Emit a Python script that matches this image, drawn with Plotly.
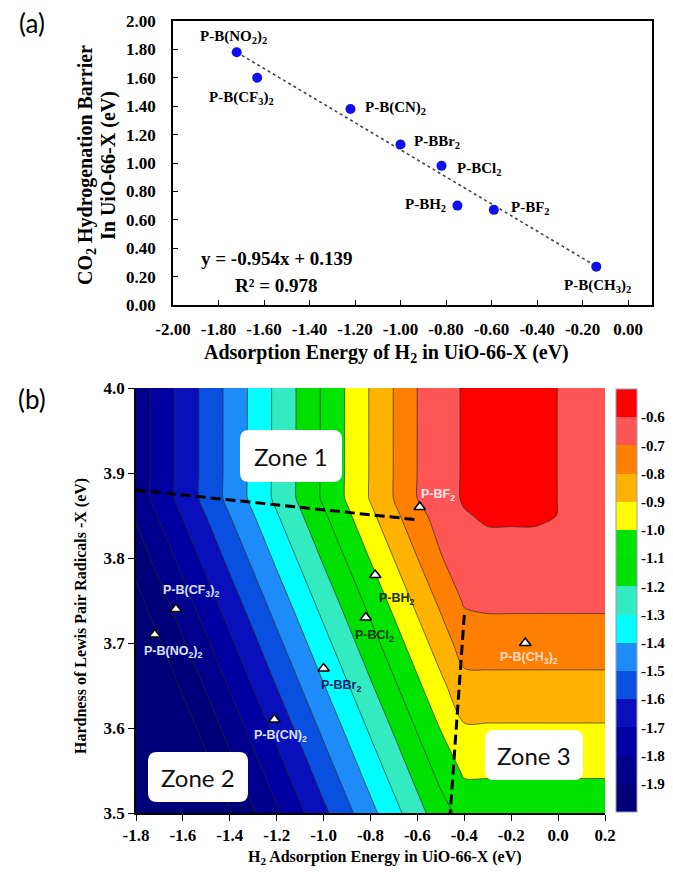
import plotly.graph_objects as go

# ---------------- data: panel (a) ----------------
substituents = ["P-B(NO<sub>2</sub>)<sub>2</sub>", "P-B(CF<sub>3</sub>)<sub>2</sub>", "P-B(CN)<sub>2</sub>",
                "P-BBr<sub>2</sub>", "P-BCl<sub>2</sub>", "P-BH<sub>2</sub>", "P-BF<sub>2</sub>",
                "P-B(CH<sub>3</sub>)<sub>2</sub>"]
h2_ads_a = [-1.72, -1.63, -1.22, -1.00, -0.82, -0.75, -0.59, -0.14]
barrier_a = [1.78, 1.60, 1.38, 1.13, 0.98, 0.70, 0.67, 0.27]
fit_slope = -0.954
fit_intercept = 0.139
fit_r2 = 0.978
xticks_a = [-2.0, -1.8, -1.6, -1.4, -1.2, -1.0, -0.8, -0.6, -0.4, -0.2, 0.0]
yticks_a = [0.0, 0.2, 0.4, 0.6, 0.8, 1.0, 1.2, 1.4, 1.6, 1.8, 2.0]

# ---------------- data: panel (b) ----------------
h2_ads_b = [-1.72, -1.63, -1.21, -1.00, -0.82, -0.78, -0.59, -0.14]
hardness_b = [3.71, 3.74, 3.61, 3.67, 3.73, 3.78, 3.86, 3.70]
xticks_b = [-1.8, -1.6, -1.4, -1.2, -1.0, -0.8, -0.6, -0.4, -0.2, 0.0, 0.2]
yticks_b = [3.5, 3.6, 3.7, 3.8, 3.9, 4.0]

grid_x = [-1.8, -1.7, -1.6, -1.5, -1.4, -1.3, -1.2, -1.1, -1.0, -0.9, -0.8,
          -0.7, -0.6, -0.5, -0.4, -0.3, -0.2, -0.1, 0.0, 0.1, 0.2]
grid_y = [3.50, 3.55, 3.60, 3.65, 3.70, 3.75, 3.80, 3.85, 3.87, 3.90, 3.95, 4.00]
barrier_grid = [
    [-2.394, -2.298, -2.201, -2.105, -2.008, -1.912, -1.815, -1.719, -1.622, -1.526, -1.429, -1.333, -1.236, -1.140, -1.065, -1.065, -1.065, -1.065, -1.065, -1.065, -1.065],
    [-2.321, -2.225, -2.128, -2.032, -1.935, -1.839, -1.742, -1.646, -1.549, -1.453, -1.356, -1.260, -1.163, -1.067, -0.985, -0.985, -0.985, -0.985, -0.985, -0.985, -0.985],
    [-2.249, -2.153, -2.056, -1.960, -1.863, -1.767, -1.670, -1.574, -1.477, -1.381, -1.284, -1.188, -1.091, -0.995, -0.909, -0.909, -0.909, -0.909, -0.909, -0.909, -0.909],
    [-2.176, -2.080, -1.983, -1.887, -1.790, -1.694, -1.597, -1.501, -1.404, -1.308, -1.211, -1.115, -1.018, -0.922, -0.832, -0.832, -0.832, -0.832, -0.832, -0.832, -0.832],
    [-2.104, -2.008, -1.911, -1.815, -1.718, -1.622, -1.525, -1.429, -1.332, -1.236, -1.139, -1.043, -0.946, -0.850, -0.753, -0.745, -0.745, -0.745, -0.745, -0.745, -0.745],
    [-2.032, -1.936, -1.839, -1.743, -1.646, -1.550, -1.453, -1.357, -1.260, -1.164, -1.067, -0.971, -0.874, -0.778, -0.689, -0.680, -0.680, -0.680, -0.680, -0.680, -0.680],
    [-1.959, -1.863, -1.766, -1.670, -1.573, -1.477, -1.380, -1.284, -1.187, -1.091, -0.994, -0.898, -0.801, -0.705, -0.648, -0.634, -0.634, -0.634, -0.634, -0.634, -0.634],
    [-1.887, -1.791, -1.694, -1.598, -1.501, -1.405, -1.308, -1.212, -1.115, -1.019, -0.922, -0.826, -0.729, -0.662, -0.607, -0.588, -0.588, -0.588, -0.601, -0.615, -0.630],
    [-1.858, -1.762, -1.665, -1.569, -1.472, -1.376, -1.279, -1.183, -1.086, -0.990, -0.893, -0.797, -0.699, -0.645, -0.590, -0.575, -0.572, -0.575, -0.601, -0.615, -0.630],
    [-1.858, -1.762, -1.665, -1.569, -1.472, -1.376, -1.279, -1.183, -1.086, -0.990, -0.893, -0.797, -0.699, -0.645, -0.590, -0.575, -0.570, -0.575, -0.601, -0.615, -0.630],
    [-1.858, -1.762, -1.665, -1.569, -1.472, -1.376, -1.279, -1.183, -1.086, -0.990, -0.893, -0.797, -0.699, -0.645, -0.590, -0.575, -0.570, -0.575, -0.601, -0.615, -0.630],
    [-1.858, -1.762, -1.665, -1.569, -1.472, -1.376, -1.279, -1.183, -1.086, -0.990, -0.893, -0.797, -0.699, -0.645, -0.590, -0.575, -0.570, -0.575, -0.601, -0.615, -0.630],
]
level_min, level_max, level_step = -2.0, -0.5, 0.1
colorbar_ticks = [-1.9, -1.8, -1.7, -1.6, -1.5, -1.4, -1.3, -1.2, -1.1, -1.0, -0.9, -0.8, -0.7, -0.6]
band_colors = ["#000078", "#00008C", "#0000A2", "#0A0FBC", "#0A50E0", "#1E8CF8", "#00FFFF",
               "#33EBC0", "#00E000", "#00E400", "#FFFF00", "#FFB300", "#FF7F00", "#FF5555", "#FF0000"]

zone1_line_x = [-1.8, -0.60]
zone1_line_y = [3.88, 3.845]
zone3_line_x = [-0.40, -0.46]
zone3_line_y = [3.733, 3.50]

# ---------------- layout helpers ----------------
W, H = 673, 872
def PX(x):
    return x / W
def PY(y):
    return 1 - y / H

SERIF = "Liberation Serif"
SANS = "Liberation Sans"

def bold_labels(vals, fmt):
    return [f"<b>{format(v, fmt)}</b>" for v in vals]

n = len(band_colors)
colorscale = []
for k, c in enumerate(band_colors):
    colorscale.append([k / n, c])
    colorscale.append([(k + 1) / n, c])

fig = go.Figure()

# ---- panel (a) ----
fit_x = [min(h2_ads_a), max(h2_ads_a)]
fit_y = [fit_slope * v + fit_intercept for v in fit_x]
fig.add_trace(go.Scatter(x=fit_x, y=fit_y, mode="lines",
                         line=dict(color="#444444", width=1.6, dash="dot"),
                         xaxis="x", yaxis="y", hoverinfo="skip"))
fig.add_trace(go.Scatter(x=h2_ads_a, y=barrier_a, mode="markers",
                         marker=dict(color="#1010EE", size=10),
                         xaxis="x", yaxis="y", text=substituents))

# ---- panel (b) ----
fig.add_trace(go.Contour(
    x=grid_x, y=grid_y, z=barrier_grid,
    xaxis="x2", yaxis="y2",
    zmin=level_min, zmax=level_max,
    colorscale=colorscale, showscale=False,
    autocontour=False,
    contours=dict(start=level_min, end=level_max, size=level_step, coloring="fill"),
    line=dict(color="rgba(40,40,40,0.85)", width=0.8, smoothing=0.8),
    hoverinfo="skip"))
fig.add_trace(go.Scatter(x=zone1_line_x, y=zone1_line_y, mode="lines",
                         line=dict(color="black", width=3, dash="10px,5px"),
                         xaxis="x2", yaxis="y2", hoverinfo="skip"))
fig.add_trace(go.Scatter(x=zone3_line_x, y=zone3_line_y, mode="lines",
                         line=dict(color="black", width=3, dash="10px,5px"),
                         xaxis="x2", yaxis="y2", hoverinfo="skip"))
fig.add_trace(go.Scatter(x=h2_ads_b, y=hardness_b, mode="markers",
                         marker=dict(symbol="triangle-up", size=10, color="white",
                                     line=dict(color="black", width=1.5)),
                         xaxis="x2", yaxis="y2", text=substituents))
# colorbar carrier
fig.add_trace(go.Scatter(x=[None], y=[None], mode="markers", xaxis="x2", yaxis="y2",
                         hoverinfo="skip",
                         marker=dict(color=[-1.0], colorscale=colorscale, cmin=level_min, cmax=level_max,
                                     showscale=True,
                                     colorbar=dict(x=PX(616), xanchor="left", xpad=0, ypad=0,
                                                   y=PY(600.5), yanchor="middle",
                                                   len=423, lenmode="pixels",
                                                   thickness=21, thicknessmode="pixels",
                                                   tickvals=colorbar_ticks,
                                                   ticktext=bold_labels(colorbar_ticks, ".1f"),
                                                   ticks="", outlinewidth=1, outlinecolor="#9a9ac0",
                                                   tickfont=dict(family=SERIF, size=15, color="black")))))

tickfont = dict(family=SERIF, size=17, color="black")

fig.update_layout(
    template="none",
    width=W, height=H, autosize=False,
    margin=dict(l=0, r=0, t=0, b=0, autoexpand=False),
    paper_bgcolor="white", plot_bgcolor="white",
    showlegend=False,
    font=dict(family=SERIF, color="black"),
    xaxis=dict(domain=[PX(173), PX(652)], anchor="y", range=[-2.0, 0.105], automargin=False,
               tickvals=xticks_a, ticktext=bold_labels(xticks_a, ".2f"),
               ticks="inside", ticklen=5, tickcolor="black",
               showline=True, linecolor="black", linewidth=1.5, mirror=True,
               showgrid=False, zeroline=False, tickfont=tickfont, ticklabelstandoff=8),
    yaxis=dict(domain=[PY(305), PY(21)], anchor="x", range=[0, 2.0], automargin=False,
               tickvals=yticks_a, ticktext=bold_labels(yticks_a, ".2f"),
               ticks="inside", ticklen=5, tickcolor="black",
               showline=True, linecolor="black", linewidth=1.5, mirror=True,
               showgrid=False, zeroline=False, tickfont=tickfont, ticklabelstandoff=12),
    xaxis2=dict(domain=[PX(136), PX(605)], anchor="y2", range=[-1.8, 0.2], automargin=False,
                tickvals=xticks_b, ticktext=bold_labels(xticks_b, ".1f"),
                ticks="outside", ticklen=6, tickcolor="black",
                showline=True, linecolor="black", linewidth=1.5,
                showgrid=False, zeroline=False, tickfont=tickfont),
    yaxis2=dict(domain=[PY(813), PY(388)], anchor="x2", range=[3.5, 4.0], automargin=False,
                tickvals=yticks_b, ticktext=bold_labels(yticks_b, ".1f"),
                ticks="outside", ticklen=6, tickcolor="black",
                showline=True, linecolor="black", linewidth=1.5,
                showgrid=False, zeroline=False, tickfont=tickfont),
)

ann = []
# panel labels
ann.append(dict(text="(a)", x=PX(32), y=PY(23), font=dict(family="Lato", size=26, color="black")))
ann.append(dict(text="(b)", x=PX(32), y=PY(399), font=dict(family="Lato", size=26, color="black")))
# axis titles
title_font_a = dict(family=SERIF, size=20, color="black")
ann.append(dict(text="<b>Adsorption Energy of H<sub>2</sub> in UiO-66-X (eV)</b>", x=PX(386), y=PY(353),
                font=title_font_a))
ann.append(dict(text="<b>CO<sub>2</sub> Hydrogenation Barrier</b>", x=PX(86), y=PY(165), textangle=-90,
                font=title_font_a))
ann.append(dict(text="<b>In UiO-66-X (eV)</b>", x=PX(108), y=PY(166), textangle=-90, font=title_font_a))
title_font_b = dict(family=SERIF, size=16, color="black")
ann.append(dict(text="<b>H<sub>2</sub> Adsorption Energy in UiO-66-X (eV)</b>", x=PX(385), y=PY(857),
                font=title_font_b))
ann.append(dict(text="<b>Hardness of Lewis Pair Radicals -X (eV)</b>", x=PX(81), y=PY(616), textangle=-90,
                font=title_font_b))

# zone boxes
zones = [("Zone 1", 240, 430, 342, 482), ("Zone 2", 148, 752, 248, 802), ("Zone 3", 485, 730, 583, 780)]
shapes = []
r = 9
for txt, x0, y0, x1, y1 in zones:
    path = (f"M {PX(x0+r)},{PY(y0)} L {PX(x1-r)},{PY(y0)} Q {PX(x1)},{PY(y0)} {PX(x1)},{PY(y0+r)} "
            f"L {PX(x1)},{PY(y1-r)} Q {PX(x1)},{PY(y1)} {PX(x1-r)},{PY(y1)} "
            f"L {PX(x0+r)},{PY(y1)} Q {PX(x0)},{PY(y1)} {PX(x0)},{PY(y1-r)} "
            f"L {PX(x0)},{PY(y0+r)} Q {PX(x0)},{PY(y0)} {PX(x0+r)},{PY(y0)} Z")
    shapes.append(dict(type="path", path=path, xref="paper", yref="paper",
                       fillcolor="white", line=dict(width=0), layer="above"))
    ann.append(dict(text=txt, x=PX((x0 + x1) / 2), y=PY((y0 + y1) / 2),
                    font=dict(family="Lato", size=24, color="#111111")))

for a in ann:
    a.update(xref="paper", yref="paper", showarrow=False, xanchor="center", yanchor="middle")

# point labels (a)
label_pos_a = [(-1.736, 1.887, "center"), (-1.70, 1.46, "center"), (-1.165, 1.385, "left"),
               (-0.949, 1.145, "left"), (-0.76, 0.96, "left"), (-0.79, 0.707, "right"),
               (-0.523, 0.68, "left"), (-0.136, 0.134, "center")]
for name, (lx, ly, anc) in zip(substituents, label_pos_a):
    ann.append(dict(text=f"<b>{name}</b>", x=lx, y=ly, xref="x", yref="y", showarrow=False, xanchor=anc,
                    yanchor="middle", font=dict(family=SERIF, size=15, color="black")))
ann.append(dict(text=f"<b>y = {fit_slope}x + {fit_intercept}</b>", x=-1.543, y=0.325, xref="x", yref="y",
                showarrow=False, xanchor="center", yanchor="middle",
                font=dict(family=SERIF, size=19, color="black")))
ann.append(dict(text=f"<b>R² = {fit_r2}</b>", x=-1.543, y=0.14, xref="x", yref="y", showarrow=False,
                xanchor="center", yanchor="middle", font=dict(family=SERIF, size=19, color="black")))

# point labels (b)
label_pos_b = [(-1.638, 3.689, "#DCE0FF"), (-1.565, 3.761, "#DCE0FF"), (-1.185, 3.591, "#DCE0FF"),
               (-0.924, 3.649, "#16206A"), (-0.783, 3.708, "#0C3A0C"), (-0.685, 3.752, "#203000"),
               (-0.514, 3.874, "#FFE6E6"), (-0.125, 3.682, "#FFDCCB")]
for name, (lx, ly, col) in zip(substituents, label_pos_b):
    ann.append(dict(text=f"<b>{name}</b>", x=lx, y=ly, xref="x2", yref="y2", showarrow=False,
                    xanchor="center", yanchor="middle",
                    font=dict(family=SANS, size=12.5, color=col)))

fig.update_layout(annotations=ann, shapes=shapes)
fig.write_html("out.html", config={"displayModeBar": False},
               post_script="document.body.style.margin='0px';document.body.style.overflow='hidden';")
